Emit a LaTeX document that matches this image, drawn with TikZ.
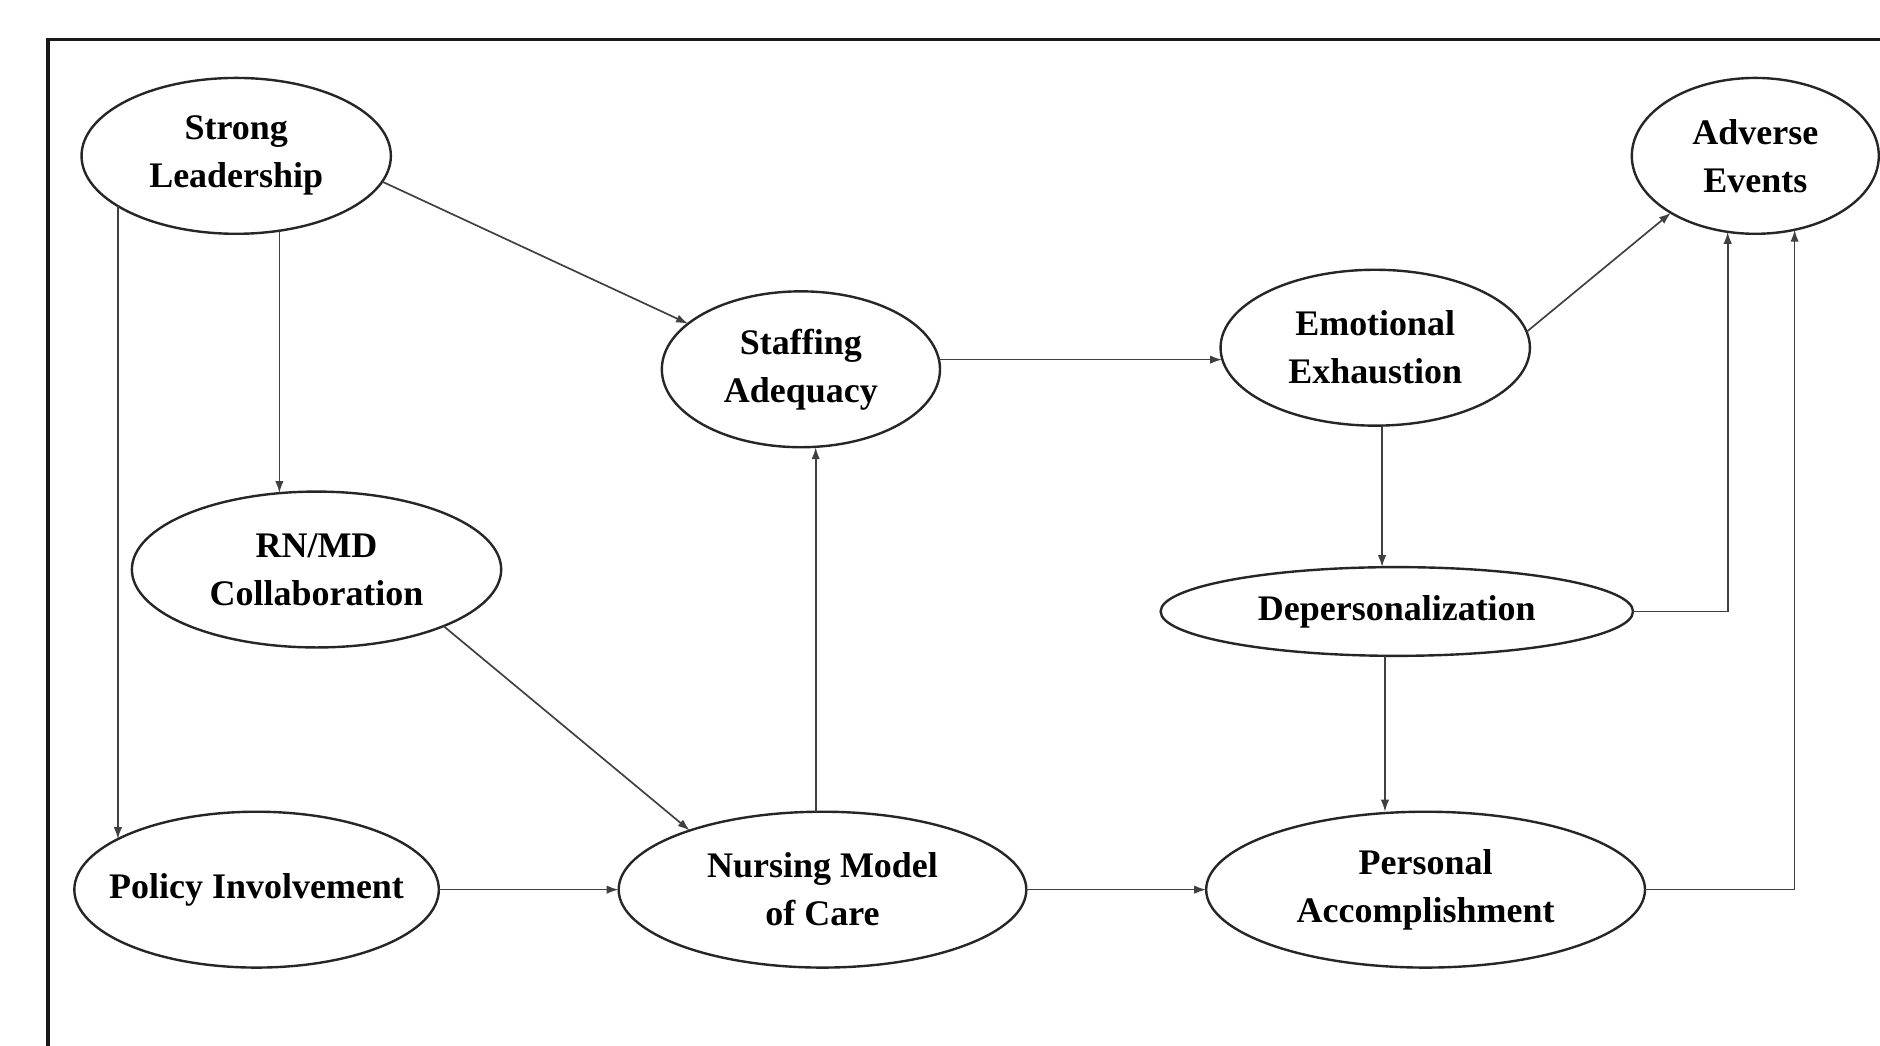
\documentclass[tikz,border=0pt]{standalone}
\usepackage{fontspec}
\setmainfont{Liberation Serif}
\usetikzlibrary{shapes.geometric,arrows.meta}
\begin{document}
\begin{tikzpicture}[x=0.5pt,y=-0.5pt,
  el/.style={draw=black!85, line width=1pt, ellipse, inner xsep=-15pt, inner ysep=0pt, outer sep=0pt,
     align=center, font=\fontsize{15}{20}\selectfont\bfseries},
  arr/.style={draw=black!75, line width=0.7pt, -{Latex[length=5pt,width=3.5pt]}},
  frame/.style={draw=black!90, line width=1.3pt}]
\useasboundingbox (0,0) rectangle (1568,872);
\fill[white] (0,0) rectangle (1568,872);
\coordinate (f1) at (40,872);
\coordinate (f2) at (40,33);
\coordinate (f3) at (1568,33);
\draw[frame] (f1) -- (f2) -- (f3);

\node[el, minimum width=129pt, minimum height=65pt] (sl) at (197,130) {Strong\\Leadership};
\node[el, minimum width=103pt, minimum height=65pt] (ae) at (1464,130) {Adverse\\Events};
\node[el, minimum width=116pt, minimum height=65pt] (st) at (668,308) {Staffing\\Adequacy};
\node[el, minimum width=129pt, minimum height=65pt] (ee) at (1147,290) {Emotional\\Exhaustion};
\node[el, minimum width=154pt, minimum height=65pt] (rn) at (264,475) {RN/MD\\Collaboration};
\node[el, minimum width=197pt, minimum height=37pt] (dp) at (1165,510) {Depersonalization};
\node[el, minimum width=152pt, minimum height=65pt] (pi) at (214,742) {Policy Involvement};
\node[el, minimum width=170pt, minimum height=65pt] (nm) at (686,742) {Nursing Model\\of Care};
\node[el, minimum width=183pt, minimum height=65pt] (pa) at (1189,742) {Personal\\Accomplishment};

\draw[arr] (sl.-10.4) -- (st.158.4);
\draw[arr] (sl.-60) -- (sl.-60 |- rn.115.9);
\draw[arr] (sl.-157.7) -- (sl.-157.7 |- pi.160.5);
\draw[arr] (rn.-24.6) -- (nm.156.5);
\draw[arr] (pi.east) -- (nm.west);
\draw[arr] (nm.95.3) -- (nm.95.3 |- st.south);
\draw[arr] (st.4.5) -- (st.4.5 -| ee.-176);
\draw[arr] (ee.6.4) -- (ae.-146);
\draw[arr] (ee.-85.6) -- (ee.-85.6 |- dp.north);
\draw[arr] (dp.east) -| (ae.-110.8);
\draw[arr] (dp.-105.1) -- (dp.-105.1 |- pa.north);
\draw[arr] (nm.east) -- (pa.west);
\draw[arr] (pa.east) -| (ae.-62.6);
\end{tikzpicture}
\end{document}
